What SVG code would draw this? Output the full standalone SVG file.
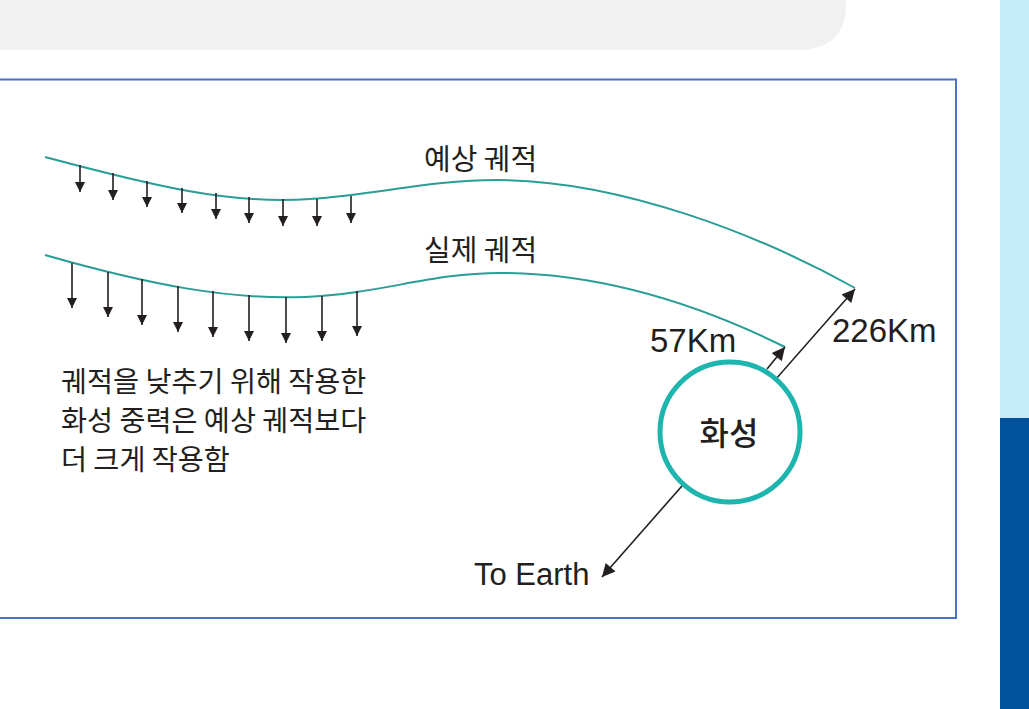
<svg xmlns="http://www.w3.org/2000/svg" width="1029" height="709" viewBox="0 0 1029 709">
<defs>
<style>
.curve{fill:none;stroke:#2a9d96;stroke-width:2}
.force{stroke:#231f20;stroke-width:1.6;marker-end:url(#sm)}
.dist{stroke:#231f20;stroke-width:1.6;fill:none}
.kr{font-family:"Noto Sans CJK KR","Noto Sans",sans-serif;fill:#231f20}
.lat{font-family:"Liberation Sans",Arial,sans-serif;fill:#231f20}
</style>
<marker id="sm" viewBox="0 0 10 10" refX="10" refY="5" markerWidth="10" markerHeight="10" markerUnits="userSpaceOnUse" orient="auto"><path d="M0,0 L10,5 L0,10 z" fill="#231f20"/></marker>
<marker id="bm" viewBox="0 0 10 10" refX="10" refY="5" markerWidth="15" markerHeight="13" markerUnits="userSpaceOnUse" orient="auto"><path d="M0,0 L10,5 L0,10 z" fill="#231f20"/></marker>
<marker id="bs" viewBox="0 0 10 10" refX="0" refY="5" markerWidth="15" markerHeight="13" markerUnits="userSpaceOnUse" orient="auto"><path d="M10,0 L0,5 L10,10 z" fill="#231f20"/></marker>
</defs>
<rect width="1029" height="709" fill="#ffffff"/>
<path d="M0,0 H846 V5 Q846,50 796,50 H0 z" fill="#f1f1f1"/>
<rect x="1000" y="0" width="29" height="418" fill="#c5eafa"/>
<rect x="1000" y="418" width="29" height="291" fill="#00529b"/>
<rect x="-5" y="79.5" width="961" height="538.5" fill="none" stroke="#4a70c8" stroke-width="2"/>

<g id="connectors">
<path class="curve" d="M45,157 C150,185 230,205 310,199 C380,194 430,180 497,180 C620,180 760,235 855,288"/>
<path class="curve" d="M45,255 C150,285 230,300 305,297 C380,294 430,273 500,273 C610,273 710,310 785,347"/>
<g id="expected-forces">
<line class="force" x1="80" y1="165" x2="80" y2="192"/>
<line class="force" x1="113" y1="173" x2="113" y2="200"/>
<line class="force" x1="147" y1="181" x2="147" y2="207"/>
<line class="force" x1="182" y1="188" x2="182" y2="213"/>
<line class="force" x1="216" y1="193" x2="216" y2="219"/>
<line class="force" x1="249" y1="197" x2="249" y2="223"/>
<line class="force" x1="283" y1="199" x2="283" y2="226"/>
<line class="force" x1="317" y1="199" x2="317" y2="226"/>
<line class="force" x1="351" y1="196" x2="351" y2="223"/>
</g>
<g id="actual-forces">
<line class="force" x1="72" y1="263" x2="72" y2="308"/>
<line class="force" x1="108" y1="272" x2="108" y2="317"/>
<line class="force" x1="142" y1="279" x2="142" y2="325"/>
<line class="force" x1="178" y1="286" x2="178" y2="332"/>
<line class="force" x1="213" y1="291" x2="213" y2="337"/>
<line class="force" x1="249" y1="295" x2="249" y2="341"/>
<line class="force" x1="286" y1="297" x2="286" y2="343"/>
<line class="force" x1="322" y1="296" x2="322" y2="341"/>
<line class="force" x1="357" y1="291" x2="357" y2="336"/>
</g>
<line class="dist" x1="602" y1="577" x2="855" y2="289" marker-start="url(#bs)" marker-end="url(#bm)"/>
<line class="dist" x1="767" y1="369" x2="785" y2="347" marker-end="url(#bm)"/>
</g>

<g id="mars">
<circle cx="730" cy="432" r="70" fill="#ffffff" stroke="#1db5ad" stroke-width="5"/>
<text class="kr" x="729" y="445" font-size="32" font-weight="500" text-anchor="middle">화성</text>
</g>

<g id="labels">
<text class="kr" x="424" y="170" font-size="29">예상 궤적</text>
<text class="kr" x="424" y="261" font-size="29">실제 궤적</text>
<text class="lat" x="650" y="352" font-size="33">57Km</text>
<text class="lat" x="832" y="342" font-size="33">226Km</text>
<text class="lat" x="474" y="585" font-size="31">To Earth</text>
<text class="kr" font-size="28.3"><tspan x="61" y="392">궤적을 낮추기 위해 작용한</tspan><tspan x="61" y="431">화성 중력은 예상 궤적보다</tspan><tspan x="61" y="470">더 크게 작용함</tspan></text>
</g>
</svg>
